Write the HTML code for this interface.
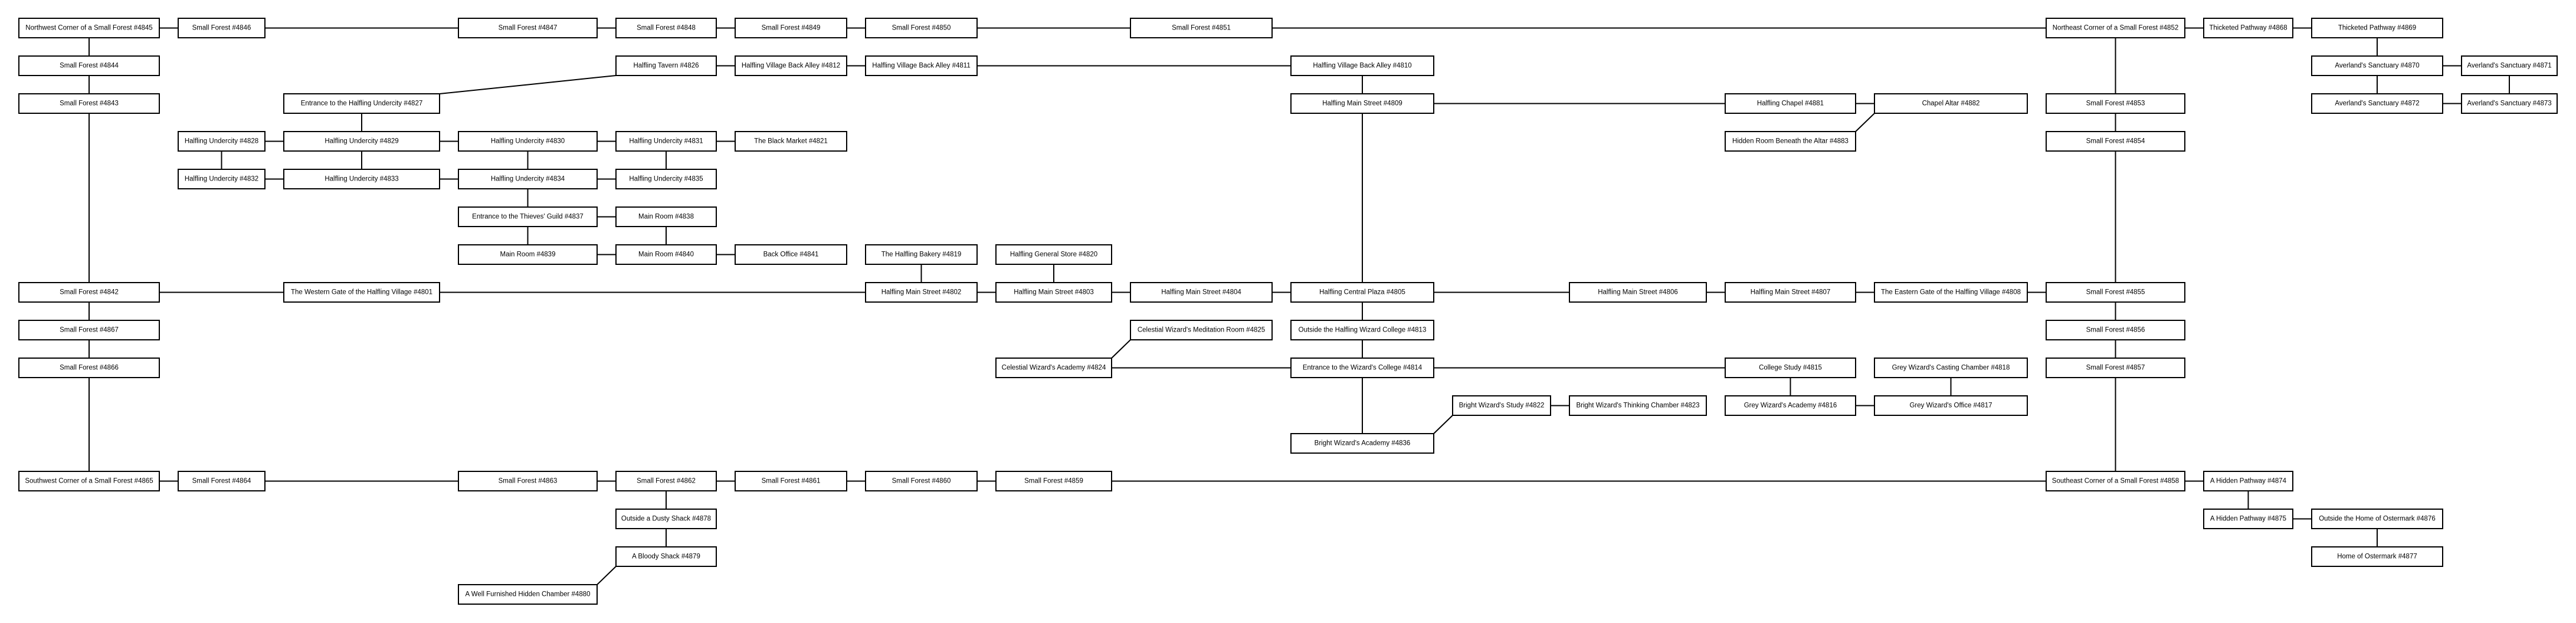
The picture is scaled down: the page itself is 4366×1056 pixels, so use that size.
<!DOCTYPE html>
<html><head><meta charset="utf-8"><style>
html,body{margin:0;padding:0;background:#fff;}
svg{display:block;}
text{font-family:"Liberation Sans",sans-serif;font-size:11.5px;fill:#000;text-anchor:middle;dominant-baseline:central;}
rect{fill:#fff;stroke:#000;stroke-width:2;}
</style></head><body>
<svg width="4366" height="1056" viewBox="0 0 4366 1056" xmlns="http://www.w3.org/2000/svg">
<rect x="0" y="0" width="4366" height="1056" style="stroke:none;fill:#fff"/>
<g stroke="#000" stroke-width="2" fill="none">
<path d="M151 47.5H4029 M1129 111.5H2309 M4029 111.5H4253 M2309 175.5H3306.5 M4029 175.5H4253 M375.5 239.5H1340.5 M375.5 303.5H1129 M894.5 367.5H1129 M894.5 431.5H1340.5 M151 495.5H3585.5 M1786 623.5H3034.5 M2545 687.5H2776 M3034.5 687.5H3306.5 M151 815.5H3810.5 M3810.5 879.5H4029"/>
<path d="M151 47.5V815.5 M3585.5 47.5V815.5 M4029 47.5V175.5 M4253 111.5V175.5 M2309 111.5V751.5 M613 175.5V303.5 M375.5 239.5V303.5 M894.5 239.5V431.5 M1129 239.5V303.5 M1129 367.5V431.5 M1561.5 431.5V495.5 M1786 431.5V495.5 M3034.5 623.5V687.5 M3306.5 623.5V687.5 M1129 815.5V943.5 M3810.5 815.5V879.5 M4029 879.5V943.5"/>
<path d="M1044 128L745 159 M3177 192L3145 223 M1884 607L1916 576 M2430 735L2462 704 M1044 960L1012 991"/>
</g>
<!-- row 0 -->
<rect x="32" y="31" width="238" height="33"/><text x="151" y="47.5">Northwest Corner of a Small Forest #4845</text>
<rect x="302" y="31" width="147" height="33"/><text x="375.5" y="47.5">Small Forest #4846</text>
<rect x="777" y="31" width="235" height="33"/><text x="894.5" y="47.5">Small Forest #4847</text>
<rect x="1044" y="31" width="170" height="33"/><text x="1129" y="47.5">Small Forest #4848</text>
<rect x="1246" y="31" width="189" height="33"/><text x="1340.5" y="47.5">Small Forest #4849</text>
<rect x="1467" y="31" width="189" height="33"/><text x="1561.5" y="47.5">Small Forest #4850</text>
<rect x="1916" y="31" width="240" height="33"/><text x="2036" y="47.5">Small Forest #4851</text>
<rect x="3468" y="31" width="235" height="33"/><text x="3585.5" y="47.5">Northeast Corner of a Small Forest #4852</text>
<rect x="3735" y="31" width="151" height="33"/><text x="3810.5" y="47.5">Thicketed Pathway #4868</text>
<rect x="3918" y="31" width="222" height="33"/><text x="4029" y="47.5">Thicketed Pathway #4869</text>
<!-- row 1 -->
<rect x="32" y="95" width="238" height="33"/><text x="151" y="111.5">Small Forest #4844</text>
<rect x="1044" y="95" width="170" height="33"/><text x="1129" y="111.5">Halfling Tavern #4826</text>
<rect x="1246" y="95" width="189" height="33"/><text x="1340.5" y="111.5">Halfling Village Back Alley #4812</text>
<rect x="1467" y="95" width="189" height="33"/><text x="1561.5" y="111.5">Halfling Village Back Alley #4811</text>
<rect x="2188" y="95" width="242" height="33"/><text x="2309" y="111.5">Halfling Village Back Alley #4810</text>
<rect x="3918" y="95" width="222" height="33"/><text x="4029" y="111.5">Averland's Sanctuary #4870</text>
<rect x="4172" y="95" width="162" height="33"/><text x="4253" y="111.5">Averland's Sanctuary #4871</text>
<!-- row 2 -->
<rect x="32" y="159" width="238" height="33"/><text x="151" y="175.5">Small Forest #4843</text>
<rect x="481" y="159" width="264" height="33"/><text x="613" y="175.5">Entrance to the Halfling Undercity #4827</text>
<rect x="2188" y="159" width="242" height="33"/><text x="2309" y="175.5">Halfling Main Street #4809</text>
<rect x="2924" y="159" width="221" height="33"/><text x="3034.5" y="175.5">Halfling Chapel #4881</text>
<rect x="3177" y="159" width="259" height="33"/><text x="3306.5" y="175.5">Chapel Altar #4882</text>
<rect x="3468" y="159" width="235" height="33"/><text x="3585.5" y="175.5">Small Forest #4853</text>
<rect x="3918" y="159" width="222" height="33"/><text x="4029" y="175.5">Averland's Sanctuary #4872</text>
<rect x="4172" y="159" width="162" height="33"/><text x="4253" y="175.5">Averland's Sanctuary #4873</text>
<!-- row 3 -->
<rect x="302" y="223" width="147" height="33"/><text x="375.5" y="239.5">Halfling Undercity #4828</text>
<rect x="481" y="223" width="264" height="33"/><text x="613" y="239.5">Halfling Undercity #4829</text>
<rect x="777" y="223" width="235" height="33"/><text x="894.5" y="239.5">Halfling Undercity #4830</text>
<rect x="1044" y="223" width="170" height="33"/><text x="1129" y="239.5">Halfling Undercity #4831</text>
<rect x="1246" y="223" width="189" height="33"/><text x="1340.5" y="239.5">The Black Market #4821</text>
<rect x="2924" y="223" width="221" height="33"/><text x="3034.5" y="239.5">Hidden Room Beneath the Altar #4883</text>
<rect x="3468" y="223" width="235" height="33"/><text x="3585.5" y="239.5">Small Forest #4854</text>
<!-- row 4 -->
<rect x="302" y="287" width="147" height="33"/><text x="375.5" y="303.5">Halfling Undercity #4832</text>
<rect x="481" y="287" width="264" height="33"/><text x="613" y="303.5">Halfling Undercity #4833</text>
<rect x="777" y="287" width="235" height="33"/><text x="894.5" y="303.5">Halfling Undercity #4834</text>
<rect x="1044" y="287" width="170" height="33"/><text x="1129" y="303.5">Halfling Undercity #4835</text>
<!-- row 5 -->
<rect x="777" y="351" width="235" height="33"/><text x="894.5" y="367.5">Entrance to the Thieves' Guild #4837</text>
<rect x="1044" y="351" width="170" height="33"/><text x="1129" y="367.5">Main Room #4838</text>
<!-- row 6 -->
<rect x="777" y="415" width="235" height="33"/><text x="894.5" y="431.5">Main Room #4839</text>
<rect x="1044" y="415" width="170" height="33"/><text x="1129" y="431.5">Main Room #4840</text>
<rect x="1246" y="415" width="189" height="33"/><text x="1340.5" y="431.5">Back Office #4841</text>
<rect x="1467" y="415" width="189" height="33"/><text x="1561.5" y="431.5">The Halfling Bakery #4819</text>
<rect x="1688" y="415" width="196" height="33"/><text x="1786" y="431.5">Halfling General Store #4820</text>
<!-- row 7 -->
<rect x="32" y="479" width="238" height="33"/><text x="151" y="495.5">Small Forest #4842</text>
<rect x="481" y="479" width="264" height="33"/><text x="613" y="495.5">The Western Gate of the Halfling Village #4801</text>
<rect x="1467" y="479" width="189" height="33"/><text x="1561.5" y="495.5">Halfling Main Street #4802</text>
<rect x="1688" y="479" width="196" height="33"/><text x="1786" y="495.5">Halfling Main Street #4803</text>
<rect x="1916" y="479" width="240" height="33"/><text x="2036" y="495.5">Halfling Main Street #4804</text>
<rect x="2188" y="479" width="242" height="33"/><text x="2309" y="495.5">Halfling Central Plaza #4805</text>
<rect x="2660" y="479" width="232" height="33"/><text x="2776" y="495.5">Halfling Main Street #4806</text>
<rect x="2924" y="479" width="221" height="33"/><text x="3034.5" y="495.5">Halfling Main Street #4807</text>
<rect x="3177" y="479" width="259" height="33"/><text x="3306.5" y="495.5">The Eastern Gate of the Halfling Village #4808</text>
<rect x="3468" y="479" width="235" height="33"/><text x="3585.5" y="495.5">Small Forest #4855</text>
<!-- row 8 -->
<rect x="32" y="543" width="238" height="33"/><text x="151" y="559.5">Small Forest #4867</text>
<rect x="1916" y="543" width="240" height="33"/><text x="2036" y="559.5">Celestial Wizard's Meditation Room #4825</text>
<rect x="2188" y="543" width="242" height="33"/><text x="2309" y="559.5">Outside the Halfling Wizard College #4813</text>
<rect x="3468" y="543" width="235" height="33"/><text x="3585.5" y="559.5">Small Forest #4856</text>
<!-- row 9 -->
<rect x="32" y="607" width="238" height="33"/><text x="151" y="623.5">Small Forest #4866</text>
<rect x="1688" y="607" width="196" height="33"/><text x="1786" y="623.5">Celestial Wizard's Academy #4824</text>
<rect x="2188" y="607" width="242" height="33"/><text x="2309" y="623.5">Entrance to the Wizard's College #4814</text>
<rect x="2924" y="607" width="221" height="33"/><text x="3034.5" y="623.5">College Study #4815</text>
<rect x="3177" y="607" width="259" height="33"/><text x="3306.5" y="623.5">Grey Wizard's Casting Chamber #4818</text>
<rect x="3468" y="607" width="235" height="33"/><text x="3585.5" y="623.5">Small Forest #4857</text>
<!-- row 10 -->
<rect x="2462" y="671" width="166" height="33"/><text x="2545" y="687.5">Bright Wizard's Study #4822</text>
<rect x="2660" y="671" width="232" height="33"/><text x="2776" y="687.5">Bright Wizard's Thinking Chamber #4823</text>
<rect x="2924" y="671" width="221" height="33"/><text x="3034.5" y="687.5">Grey Wizard's Academy #4816</text>
<rect x="3177" y="671" width="259" height="33"/><text x="3306.5" y="687.5">Grey Wizard's Office #4817</text>
<!-- row 11 -->
<rect x="2188" y="735" width="242" height="33"/><text x="2309" y="751.5">Bright Wizard's Academy #4836</text>
<!-- row 12 -->
<rect x="32" y="799" width="238" height="33"/><text x="151" y="815.5">Southwest Corner of a Small Forest #4865</text>
<rect x="302" y="799" width="147" height="33"/><text x="375.5" y="815.5">Small Forest #4864</text>
<rect x="777" y="799" width="235" height="33"/><text x="894.5" y="815.5">Small Forest #4863</text>
<rect x="1044" y="799" width="170" height="33"/><text x="1129" y="815.5">Small Forest #4862</text>
<rect x="1246" y="799" width="189" height="33"/><text x="1340.5" y="815.5">Small Forest #4861</text>
<rect x="1467" y="799" width="189" height="33"/><text x="1561.5" y="815.5">Small Forest #4860</text>
<rect x="1688" y="799" width="196" height="33"/><text x="1786" y="815.5">Small Forest #4859</text>
<rect x="3468" y="799" width="235" height="33"/><text x="3585.5" y="815.5">Southeast Corner of a Small Forest #4858</text>
<rect x="3735" y="799" width="151" height="33"/><text x="3810.5" y="815.5">A Hidden Pathway #4874</text>
<!-- row 13 -->
<rect x="1044" y="863" width="170" height="33"/><text x="1129" y="879.5">Outside a Dusty Shack #4878</text>
<rect x="3735" y="863" width="151" height="33"/><text x="3810.5" y="879.5">A Hidden Pathway #4875</text>
<rect x="3918" y="863" width="222" height="33"/><text x="4029" y="879.5">Outside the Home of Ostermark #4876</text>
<!-- row 14 -->
<rect x="1044" y="927" width="170" height="33"/><text x="1129" y="943.5">A Bloody Shack #4879</text>
<rect x="3918" y="927" width="222" height="33"/><text x="4029" y="943.5">Home of Ostermark #4877</text>
<!-- row 15 -->
<rect x="777" y="991" width="235" height="33"/><text x="894.5" y="1007.5">A Well Furnished Hidden Chamber #4880</text>
</svg>
</body></html>
